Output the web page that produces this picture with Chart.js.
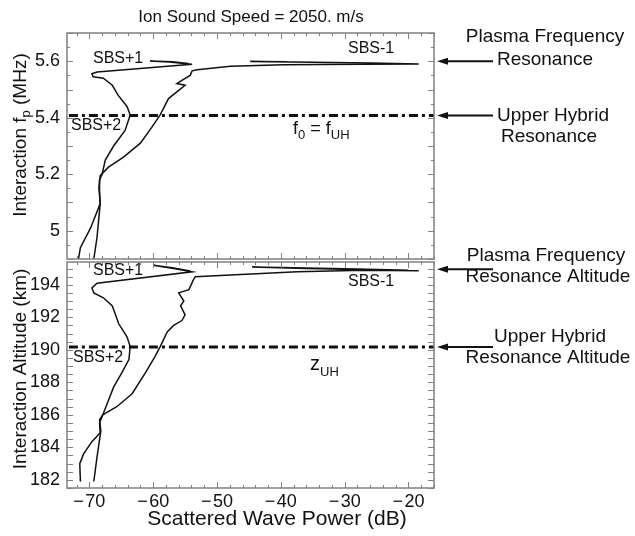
<!DOCTYPE html>
<html>
<head>
<meta charset="utf-8">
<script src="https://cdn.jsdelivr.net/npm/chart.js@4.4.0/dist/chart.umd.min.js"></script>
<style>
  body { margin: 0; background: #fff; }
  #wrap { position: relative; width: 635px; height: 536px; }
  #wrap canvas { position: absolute; left: 0; top: 0; }
</style>
</head>
<body>
<div id="wrap">
  <canvas id="topPanel" width="635" height="536"></canvas>
  <canvas id="bottomPanel" width="635" height="536"></canvas>
</div>
<script>
// x axis (shared)
const powerMin = -73.5, powerMax = -16;
const powerTicks = [-70, -60, -50, -40, -30, -20];

// top panel: interaction plasma frequency (MHz)
const fpMin = 4.9, fpMax = 5.7;
const fpTicks = [5, 5.2, 5.4, 5.6];
const fpUpperHybrid = 5.408;
const fpPlasmaRes = 5.6;

const topLeftPower = [-71.7, -71.4, -69.8, -68.3, -68.4, -68.4, -68.0, -67.5, -66.2, -64.4, -63.6, -64.1, -65.5, -66.4, -67.8, -69.4, -69.6, -68.8, -53.9, -57.5, -60.5, -57.0, -54.5];
const topLeftFreq  = [4.9, 4.94, 5.01, 5.096, 5.14, 5.18, 5.2, 5.25, 5.30, 5.355, 5.41, 5.44, 5.48, 5.515, 5.54, 5.545, 5.556, 5.562, 5.589, 5.597, 5.601, 5.598, 5.592];

const topRightPower = [-69.3, -68.8, -68.3, -68.5, -68.3, -67.0, -64.7, -62.0, -60.2, -58.9, -57.6, -56.0, -55.0, -56.3, -55.7, -54.2, -53.9, -53.1, -47.9, -39.6, -27.1, -18.4, -26, -38, -44.8, -39];
const topRightFreq  = [4.9, 4.976, 5.095, 5.154, 5.195, 5.225, 5.26, 5.31, 5.367, 5.41, 5.468, 5.497, 5.515, 5.521, 5.53, 5.55, 5.566, 5.570, 5.582, 5.588, 5.589, 5.590, 5.594, 5.5975, 5.5995, 5.5985];

// bottom panel: interaction altitude (km)
const altMin = 181.5, altMax = 195.4;
const altTicks = [182, 184, 186, 188, 190, 192, 194];
const altUpperHybrid = 190.17;
const altPlasmaRes = 194.95;

const botLeftPower = [-71.4, -71.5, -70.9, -69.6, -68.3, -68.4, -68.0, -67.2, -66.2, -64.9, -63.8, -63.6, -64.1, -65.4, -66.4, -67.8, -69.3, -69.6, -68.8, -53.9, -56.8, -60.0, -57.0, -54.2];
const botLeftAlt   = [181.9, 183.0, 183.6, 184.35, 184.9, 185.5, 185.9, 186.7, 187.7, 188.6, 189.4, 190.2, 190.8, 191.6, 192.7, 193.2, 193.5, 193.8, 194.1, 194.8, 195.0, 195.2, 195.05, 194.85];

const botRightPower = [-69.3, -68.8, -68.2, -68.4, -67.9, -65.7, -63.3, -61.2, -59.7, -58.9, -57.8, -56.8, -55.5, -55.0, -55.7, -55.2, -56.0, -54.4, -53.7, -53.4, -47.9, -37.4, -27.1, -18.4, -26, -36, -44.5, -38, -28, -20];
const botRightAlt   = [181.9, 183.4, 185.0, 185.7, 186.0, 186.5, 187.3, 188.6, 189.6, 190.2, 191.1, 191.5, 191.8, 192.15, 192.7, 193.0, 193.5, 193.7, 194.3, 194.5, 194.6, 194.8, 194.9, 194.86, 194.93, 195.0, 195.1, 195.05, 194.97, 194.9];

const FONT = '"Liberation Sans", Arial, Helvetica, sans-serif';
const INK = '#111';

function pts(xs, ys) {
  return xs.map((x, i) => ({ x: x, y: ys[i] }));
}

function curve(xs, ys) {
  return { data: pts(xs, ys), showLine: true, borderColor: INK, borderWidth: 1.5, pointRadius: 0, tension: 0 };
}

function dashDot(yVal) {
  return {
    data: [{ x: powerMin + 0.3, y: yVal }, { x: powerMax, y: yVal }],
    showLine: true, borderColor: INK, borderWidth: 3, pointRadius: 0,
    borderDash: [9, 4, 3, 4]
  };
}

function richText(ctx, parts, x, y, align) {
  let w = 0;
  parts.forEach(p => { ctx.font = p[1] + 'px ' + FONT; w += ctx.measureText(p[0]).width; });
  let cx = align === 'center' ? x - w / 2 : x;
  ctx.textAlign = 'left';
  ctx.textBaseline = 'alphabetic';
  parts.forEach(p => {
    ctx.font = p[1] + 'px ' + FONT;
    ctx.fillText(p[0], cx, y + (p[2] || 0));
    cx += ctx.measureText(p[0]).width;
  });
}

function label(ctx, text, x, y, size, align) {
  ctx.font = size + 'px ' + FONT;
  ctx.textAlign = align || 'center';
  ctx.textBaseline = 'middle';
  ctx.fillText(text, x, y);
}

function arrow(ctx, y) {
  ctx.lineWidth = 2;
  ctx.beginPath(); ctx.moveTo(444, y); ctx.lineTo(493, y); ctx.stroke();
  ctx.beginPath(); ctx.moveTo(437, y); ctx.lineTo(448, y - 3.5); ctx.lineTo(448, y + 3.5); ctx.closePath(); ctx.fill();
}

// inward ticks + grey frame, like the original plot
const frameTicks = {
  id: 'frameTicks',
  afterDatasetsDraw(chart, args, opts) {
    const { ctx, chartArea: a, scales: { x, y } } = chart;
    ctx.save();
    ctx.strokeStyle = '#808080';
    ctx.lineWidth = 1;
    ctx.beginPath();
    for (let v = -72; v <= powerMax; v += 2) {
      const px = Math.round(x.getPixelForValue(v)) + 0.5;
      const len = v % 10 === 0 ? 6 : 3;
      ctx.moveTo(px, a.bottom); ctx.lineTo(px, a.bottom - len);
      ctx.moveTo(px, a.top); ctx.lineTo(px, a.top + len);
    }
    const n = Math.round((opts.yMax - opts.yStart) / opts.yMinor);
    for (let i = 0; i <= n; i++) {
      const v = opts.yStart + i * opts.yMinor;
      if (v < y.min || v > y.max) continue;
      const py = Math.round(y.getPixelForValue(v)) + 0.5;
      const len = i % opts.every === 0 ? 6 : 3;
      ctx.moveTo(a.left, py); ctx.lineTo(a.left + len, py);
      ctx.moveTo(a.right, py); ctx.lineTo(a.right - len, py);
    }
    ctx.stroke();
    ctx.lineWidth = 1.5;
    ctx.strokeRect(a.left, a.top, a.width, a.height);
    ctx.restore();
  }
};

function yScale(min, max, ticks, fmt) {
  return {
    min: min, max: max,
    afterBuildTicks: s => { s.ticks = ticks.map(v => ({ value: v })); },
    afterFit: s => { s.width = 67; },
    grid: { display: false, drawTicks: false },
    border: { display: false },
    ticks: { font: { family: FONT, size: 18 }, color: INK, padding: 7, autoSkip: false, callback: fmt }
  };
}

function xScale(show) {
  return {
    type: 'linear', min: powerMin, max: powerMax, display: show,
    afterBuildTicks: s => { s.ticks = powerTicks.map(v => ({ value: v })); },
    afterFit: s => { s.height = show ? 48 : 0; },
    grid: { display: false, drawTicks: false },
    border: { display: false },
    ticks: {
      font: { family: FONT, size: 18 }, color: INK, padding: 3, maxRotation: 0, autoSkip: false,
      callback: v => v < 0 ? '\u2212\u200a' + Math.abs(v) : String(v)
    }
  };
}

const topNotes = {
  id: 'topNotes',
  afterDraw(chart) {
    const ctx = chart.ctx, y = chart.scales.y;
    ctx.save();
    ctx.fillStyle = INK; ctx.strokeStyle = INK;
    label(ctx, 'Ion Sound Speed = 2050. m/s', 251, 17, 17);
    ctx.save();
    ctx.translate(19, 135); ctx.rotate(-Math.PI / 2);
    richText(ctx, [['Interaction f', 19], ['p', 13, 4], [' (MHz)', 19]], 0, 7, 'center');
    ctx.restore();
    label(ctx, 'SBS+1', 93, 59, 16, 'left');
    label(ctx, 'SBS-1', 348, 49, 16, 'left');
    label(ctx, 'SBS+2', 71, 126, 16, 'left');
    richText(ctx, [['f', 18], ['0', 13, 5], [' = f', 18], ['UH', 13, 5]], 293, 134);
    arrow(ctx, y.getPixelForValue(fpPlasmaRes));
    arrow(ctx, y.getPixelForValue(fpUpperHybrid));
    label(ctx, 'Plasma Frequency', 545, 37, 19);
    label(ctx, 'Resonance', 545, 60, 19);
    label(ctx, 'Upper Hybrid', 553, 116, 19);
    label(ctx, 'Resonance', 549, 137, 19);
    ctx.restore();
  }
};

const bottomNotes = {
  id: 'bottomNotes',
  afterDraw(chart) {
    const ctx = chart.ctx, y = chart.scales.y;
    ctx.save();
    ctx.fillStyle = INK; ctx.strokeStyle = INK;
    ctx.save();
    ctx.translate(19, 369); ctx.rotate(-Math.PI / 2);
    richText(ctx, [['Interaction Altitude (km)', 19]], 0, 7, 'center');
    ctx.restore();
    label(ctx, 'Scattered Wave Power (dB)', 277, 519, 21);
    label(ctx, 'SBS+1', 93, 271, 16, 'left');
    label(ctx, 'SBS-1', 348, 282, 16, 'left');
    label(ctx, 'SBS+2', 73, 358, 16, 'left');
    richText(ctx, [['z', 20], ['UH', 13, 6]], 310, 370);
    arrow(ctx, y.getPixelForValue(altPlasmaRes));
    arrow(ctx, y.getPixelForValue(altUpperHybrid));
    label(ctx, 'Plasma Frequency', 546, 256, 19);
    label(ctx, 'Resonance Altitude', 548, 277, 19);
    label(ctx, 'Upper Hybrid', 550, 337, 19);
    label(ctx, 'Resonance Altitude', 548, 358, 19);
    ctx.restore();
  }
};

const common = {
  responsive: false,
  animation: false,
  events: [],
  plugins: { legend: { display: false }, tooltip: { enabled: false } }
};

new Chart(document.getElementById('topPanel'), {
  type: 'scatter',
  data: {
    datasets: [
      curve(topLeftPower, topLeftFreq),
      curve(topRightPower, topRightFreq),
      dashDot(fpUpperHybrid)
    ]
  },
  options: {
    ...common,
    layout: { padding: { left: 0, top: 33, right: 201, bottom: 277 } },
    scales: {
      x: xScale(false),
      y: yScale(fpMin, fpMax, fpTicks, v => String(Math.round(v * 10) / 10))
    },
    plugins: { ...common.plugins, frameTicks: { yStart: 4.9, yMax: 5.7, yMinor: 0.05, every: 2 } }
  },
  plugins: [frameTicks, topNotes]
});

new Chart(document.getElementById('bottomPanel'), {
  type: 'scatter',
  data: {
    datasets: [
      curve(botLeftPower, botLeftAlt),
      curve(botRightPower, botRightAlt),
      dashDot(altUpperHybrid)
    ]
  },
  options: {
    ...common,
    layout: { padding: { left: 0, top: 262, right: 201, bottom: 0 } },
    scales: {
      x: xScale(true),
      y: yScale(altMin, altMax, altTicks, v => String(v))
    },
    plugins: { ...common.plugins, frameTicks: { yStart: 181.5, yMax: 195.5, yMinor: 0.5, every: 1 } }
  },
  plugins: [frameTicks, bottomNotes]
});
</script>
</body>
</html>
